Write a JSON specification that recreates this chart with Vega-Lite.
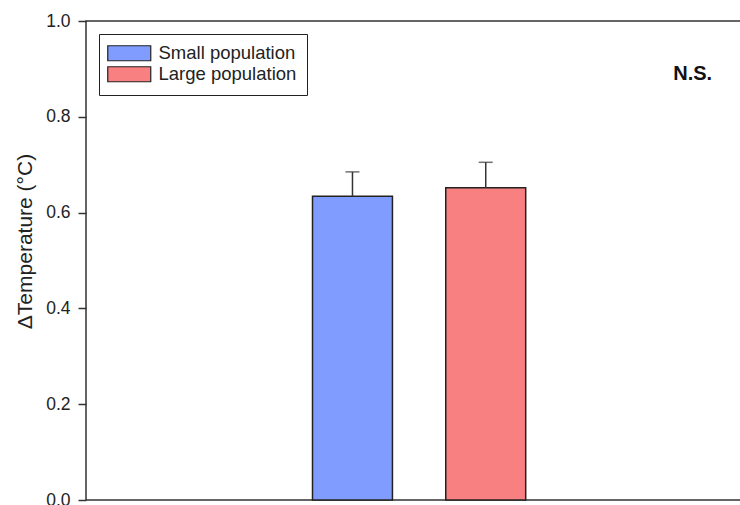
{
  "$schema": "https://vega.github.io/schema/vega-lite/v6.json",
  "width": 666,
  "height": 479,
  "autosize": {"type": "none"},
  "padding": {"left": 86, "top": 21, "right": 0, "bottom": 5},
  "background": "white",
  "config": {
    "font": "Liberation Sans",
    "view": {"stroke": "#333", "strokeWidth": 1.5}
  },
  "layer": [
    {
      "data": {
        "values": [
          {"group": "Small population", "mean": 0.634, "upper": 0.685},
          {"group": "Large population", "mean": 0.652, "upper": 0.705}
        ]
      },
      "encoding": {
        "x": {
          "field": "group",
          "type": "nominal",
          "sort": null,
          "scale": {"range": [226.5, 439.7], "paddingInner": 0.4, "paddingOuter": 0},
          "axis": null
        }
      },
      "layer": [
        {
          "mark": {"type": "bar", "stroke": "#222", "strokeWidth": 1.5, "opacity": 1},
          "encoding": {
            "y": {
              "field": "mean",
              "type": "quantitative",
              "scale": {"domain": [0, 1], "nice": false},
              "axis": {
                "values": [0, 0.2, 0.4, 0.6, 0.8, 1.0],
                "format": ".1f",
                "grid": false,
                "domain": false,
                "tickSize": 8,
                "tickColor": "#333",
                "tickWidth": 1.5,
                "labelPadding": 8,
                "labelFontSize": 17.5,
                "labelColor": "#222",
                "title": "ΔTemperature (°C)",
                "titleFontSize": 21,
                "titleFontWeight": "normal",
                "titleColor": "#222",
                "titleX": -51,
                "titleY": 220,
                "titleBaseline": "bottom"
              }
            },
            "color": {
              "field": "group",
              "type": "nominal",
              "sort": null,
              "scale": {
                "domain": ["Small population", "Large population"],
                "range": ["#809cff", "#f88080"]
              },
              "legend": {
                "orient": "none",
                "legendX": 13,
                "legendY": 13,
                "title": null,
                "symbolType": "M-2.867,-1H2.867V1H-2.867Z",
                "symbolSize": 225,
                "symbolOffset": 11,
                "symbolStrokeColor": "#222",
                "symbolStrokeWidth": 1.2,
                "symbolOpacity": 1,
                "labelFontSize": 18.5,
                "labelColor": "#222",
                "labelOffset": 20,
                "strokeColor": "#222",
                "padding": 10,
                "rowPadding": 0
              }
            }
          }
        },
        {
          "mark": {"type": "rule", "color": "#333", "strokeWidth": 1.5},
          "encoding": {
            "y": {"field": "mean", "type": "quantitative"},
            "y2": {"field": "upper"}
          }
        },
        {
          "mark": {"type": "tick", "color": "#333", "thickness": 1.5, "size": 14, "orient": "horizontal"},
          "encoding": {
            "y": {"field": "upper", "type": "quantitative"}
          }
        }
      ]
    },
    {
      "data": {"values": [{"note": "N.S."}]},
      "mark": {"type": "text", "fontWeight": "bold", "fontSize": 20, "color": "#111", "baseline": "middle", "align": "center"},
      "encoding": {
        "x": {"datum": 0.911, "type": "quantitative", "scale": {"domain": [0, 1]}, "axis": null},
        "y": {"datum": 0.889, "type": "quantitative"},
        "text": {"field": "note"}
      }
    }
  ],
  "resolve": {"scale": {"x": "independent"}}
}
